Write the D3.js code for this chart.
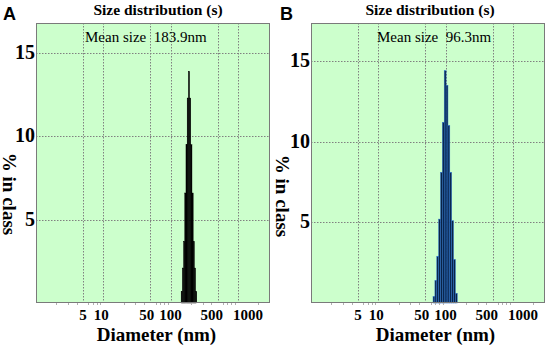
<!DOCTYPE html>
<html><head><meta charset="utf-8">
<script src="https://cdn.jsdelivr.net/npm/d3@7"></script>
<style>body{margin:0;background:#fff;} svg{display:block;} text{white-space:pre;}</style>
</head><body>
<svg id="c" width="547" height="349"></svg>
<script>
// ---- data ----
const xTicks = [5, 10, 50, 100, 500, 1000];
const yTicks = [5, 10, 15];
const sizesA = [146.4, 152.6, 159.0, 165.7, 172.7, 179.9, 187.5, 195.4, 203.6, 212.2, 221.1, 230.4, 240.1];
const valuesA = [0.7, 2.1, 3.7, 6.6, 9.5, 12.3, 13.9, 12.3, 9.5, 6.6, 3.7, 2.1, 0.7];
const sizesB = [67.2, 71.7, 76.4, 81.4, 86.7, 92.4, 98.5, 105.0, 111.9, 119.2, 127.0, 135.4, 144.3];
const valuesB = [0.4, 1.4, 2.9, 5.2, 8.1, 11.2, 14.4, 13.5, 11.0, 8.1, 5.1, 2.7, 0.6];
const meanA = "183.9";
const meanB = "96.3";
const panelLetters = ["A", "B"];
const titleText = "Size distribution (s)";
const xLabel = "Diameter (nm)";
const yLabel = "% in class";

// ---- layout / style ----
const xDomain = [1, 3000];
const tickShift = [0, -2, -3.5, 0, -6, 10];
const panels = [
  {letter: panelLetters[0], sizes: sizesA, values: valuesA, mean: meanA,
   left: 36, right: 270, top: 23, bottom: 303, yMax: 16.8,
   fill: "#000", stroke: "#000", strokeW: 0.4,
   letterX: 3, titleX: 158, meanX: 85, xLabelX: 156.5, yLabelX: 2.5, yLabelY: 194},
  {letter: panelLetters[1], sizes: sizesB, values: valuesB, mean: meanB,
   left: 311, right: 545, top: 23, bottom: 303, yMax: 17.36,
   fill: "#0a2347", stroke: "#2a70cc", strokeW: 0.5,
   letterX: 280, titleX: 430, meanX: 377, xLabelX: 435.5, yLabelX: 275.5, yLabelY: 196}
];

const svg = d3.select("#c");
const serif = "'Liberation Serif', 'Times New Roman', serif";

panels.forEach(p => {
  const g = svg.append("g");
  const x = d3.scaleLog().domain(xDomain).range([p.left, p.right]);
  const y = d3.scaleLinear().domain([0, p.yMax]).range([p.bottom, p.top]);

  // background
  g.append("rect").attr("x", p.left).attr("y", p.top)
    .attr("width", p.right - p.left).attr("height", p.bottom - p.top)
    .attr("fill", "#ccffcc");

  // grid
  g.selectAll(".vg").data(xTicks).enter().append("line")
    .attr("x1", d => Math.round(x(d)) + 0.5).attr("x2", d => Math.round(x(d)) + 0.5)
    .attr("y1", p.top).attr("y2", p.bottom)
    .attr("stroke", "#808080").attr("stroke-width", 1).attr("stroke-dasharray", "1.5,1.5");
  g.selectAll(".hg").data(yTicks).enter().append("line")
    .attr("y1", d => Math.round(y(d)) + 0.5).attr("y2", d => Math.round(y(d)) + 0.5)
    .attr("x1", p.left).attr("x2", p.right)
    .attr("stroke", "#808080").attr("stroke-width", 1).attr("stroke-dasharray", "1.5,1.5");

  // bars
  const s = p.sizes;
  const edges = s.map((d, i) => {
    const lo = i > 0 ? Math.sqrt(s[i - 1] * d) : d * Math.sqrt(d / s[1]);
    const hi = i < s.length - 1 ? Math.sqrt(s[i + 1] * d) : d * Math.sqrt(d / s[i - 1]);
    return [lo, hi];
  });
  g.selectAll(".bar").data(p.values).enter().append("rect")
    .attr("x", (d, i) => x(edges[i][0]))
    .attr("width", (d, i) => x(edges[i][1]) - x(edges[i][0]))
    .attr("y", d => y(d))
    .attr("height", d => y(0) - y(d))
    .attr("fill", p.fill).attr("stroke", p.stroke).attr("stroke-width", p.strokeW);

  // frame
  g.append("rect").attr("x", p.left + 0.5).attr("y", p.top + 0.5)
    .attr("width", p.right - p.left - 1).attr("height", p.bottom - p.top - 1)
    .attr("fill", "none").attr("stroke", "#7a7a7a").attr("stroke-width", 1);

  // minor ticks below axis
  const minor = [];
  [1, 10, 100, 1000].forEach(dec => { for (let k = 2; k <= 9; k++) { const v = dec * k; if (v < xDomain[1] && !xTicks.includes(v)) minor.push(v); } });
  g.selectAll(".mt").data(minor).enter().append("line")
    .attr("x1", d => Math.round(x(d)) + 0.5).attr("x2", d => Math.round(x(d)) + 0.5)
    .attr("y1", p.bottom).attr("y2", p.bottom + 2)
    .attr("stroke", "#b0b0b0").attr("stroke-width", 1);

  // x tick labels
  g.selectAll(".xl").data(xTicks).enter().append("text")
    .attr("x", (d, i) => x(d) + tickShift[i]).attr("y", 320)
    .attr("text-anchor", "middle")
    .attr("font-family", serif).attr("font-weight", "bold").attr("font-size", 15)
    .text(d => d);

  // y tick labels
  g.selectAll(".yl").data(yTicks).enter().append("text")
    .attr("x", p.left - 1).attr("y", d => y(d) + 6)
    .attr("text-anchor", "end")
    .attr("font-family", serif).attr("font-weight", "bold").attr("font-size", 20)
    .text(d => d);

  // title
  g.append("text").attr("x", p.titleX).attr("y", 14.5).attr("text-anchor", "middle")
    .attr("font-family", serif).attr("font-weight", "bold").attr("font-size", 15.5)
    .text(titleText);

  // mean size
  g.append("text").attr("x", p.meanX).attr("y", 42)
    .attr("font-family", serif).attr("font-size", 15)
    .text("Mean size  " + p.mean + "nm");

  // x label
  g.append("text").attr("x", p.xLabelX).attr("y", 341).attr("text-anchor", "middle")
    .attr("font-family", serif).attr("font-weight", "bold").attr("font-size", 19)
    .text(xLabel);

  // y label
  g.append("text").attr("transform", `translate(${p.yLabelX},${p.yLabelY}) rotate(90)`)
    .attr("text-anchor", "middle")
    .attr("font-family", serif).attr("font-weight", "bold").attr("font-size", 19)
    .text(yLabel);

  // panel letter
  g.append("text").attr("x", p.letterX).attr("y", 20)
    .attr("font-family", "'Liberation Sans', Arial, sans-serif").attr("font-weight", "bold").attr("font-size", 18)
    .text(p.letter);
});
</script>
</body></html>
